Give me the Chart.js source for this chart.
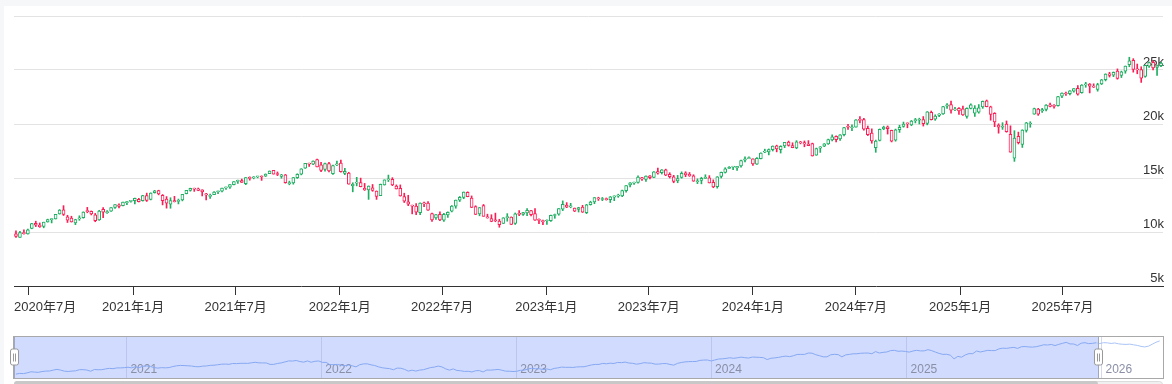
<!DOCTYPE html>
<html><head><meta charset="utf-8">
<script src="https://cdn.jsdelivr.net/npm/chart.js@4.4.1/dist/chart.umd.min.js"></script>
<style>
html,body{margin:0;padding:0;background:#f6f7f9;overflow:hidden;}
#card{position:absolute;left:4px;top:6px;width:1168px;height:378px;background:#fff;}
canvas{position:absolute;left:0;}
#main{top:0;}
#nav{top:330px;}
</style></head><body>
<div id="card"></div>
<canvas id="main" width="1172" height="330" style="width:1172px;height:330px"></canvas>
<canvas id="nav" width="1172" height="54" style="width:1172px;height:54px"></canvas>
<script>
// Weekly candles [open, high, low, close]; one row per week, weeks start on Mondays from 2020-06-08
const firstWeek = '2020-06-08';
const weeks2020 = [
[9830,10100,9490,9590],[9500,10060,9490,9950],[9950,10190,9800,9850],[9830,10280,9810,10210],
[10330,10800,10300,10770],[10800,11000,10500,10640],[10650,10840,10430,10490],[10520,10910,10390,10910],
[10930,11190,10910,11140],[11140,11230,10840,11180],[11200,11640,11200,11630],[11680,12080,11650,12040],
[12060,12440,11530,11620],[11400,11550,10880,11090],[11280,11460,10920,10940],[10850,11180,10680,11150],
[11210,11500,11080,11260],[11330,11870,11280,11850],[11990,12280,11780,11880],[11920,11950,11580,11670],
[11600,11720,10950,11050],[11130,12010,11080,11940],[12100,12270,11330,11830],[11800,11980,11730,11850],
[11920,12270,11900,12260],[12280,12530,12180,12530],[12520,12610,12230,12380],[12440,12760,12420,12760],
[12720,12840,12540,12770],[12830,12930,12760,12890]];
const weeks2021 = [
[12900,13150,12590,13110],[13030,13120,12780,12800],[12890,13400,12860,13370],[13370,13600,12830,12930],
[13010,13630,12970,13600],[13640,13860,13600,13810],[13830,13870,13440,13520],[13400,13470,12510,12910],
[13050,13280,12210,12670],[12580,13170,12200,12900],[12900,13300,12780,12800],[12830,13050,12600,12940],
[12960,13490,12880,13480],[13560,13850,13530,13850],[13850,14060,13780,14040],[14000,14060,13760,13970],
[14000,14070,13820,13860],[13900,13910,13340,13720],[13540,13590,12970,13430],[13300,13500,13100,13360],
[13450,13740,13450,13690],[13730,13800,13550,13770],[13780,14070,13720,14070],[14090,14170,13950,14150],
[14150,14400,14030,14380],[14380,14670,14370,14660],[14690,14800,14500,14740],[14760,14900,14600,14600],
[14480,15040,14380,15030],[15050,15110,14800,14960],[15010,15130,14920,15110],[15100,15160,15010,15130],
[15120,15200,14780,15090],[15160,15380,15140,15370],[15410,15660,15400,15650],[15700,15700,15360,15360],
[15380,15560,15220,15320],[15150,15340,14980,15300],[15300,15330,14520,14570],[14480,14710,14370,14580],
[14540,15050,14430,15050],[15030,15390,14960,15340],[15360,15860,15290,15850],[15900,16350,15890,16350],
[16330,16380,16070,16280],[16290,16590,16240,16570],[16700,16760,16020,16030],[16230,16460,15590,15710],
[15800,16380,15640,16340],[16330,16450,15570,15660],[15400,16190,15320,16160],[16210,16570,16150,16320]];
const weeks2022 = [
[16390,16660,15540,15590],[15430,15900,15300,15610],[15450,15530,14430,14440],[14260,14560,13720,14440],
[14520,15060,14270,14560],[14580,14990,14180,14190],[14050,14500,13850,13890],[13900,14270,13020,14250],
[14090,14400,13770,13840],[13780,13800,13020,13300],[13360,14440,13360,14420],[14370,14830,14340,14820],
[14820,15270,14670,14860],[14880,15030,14290,14350],[14250,14360,13980,14000],[14040,14360,13320,13330],
[13280,13590,12730,12850],[12800,13400,12440,12580],[12440,12490,11680,12390],[12400,12620,11610,11840],
[11800,12700,11600,12680],[12700,12760,12350,12590],[12680,12810,12000,12010],[11710,11760,10990,11130],
[11310,11610,11160,11610],[11640,11860,11040,11130],[11090,11720,10990,11640],[11570,11860,11360,11830],
[11930,12450,11860,12400],[12390,12960,12200,12950],[12950,13290,12820,13210],[13210,13710,13080,13700],
[13670,13720,13260,13270],[13150,13340,12260,12280],[12350,12430,11620,11630],[11680,12260,11500,12250],
[12450,12550,11470,11450],[11400,11650,11280,11310],[11250,11600,10950,10970],[11050,11750,10950,11040],
[11000,11180,10440,10690],[10800,11330,10790,11320],[11330,11700,11000,11400],[11390,11400,10690,10700],
[10800,11760,10700,11690],[11720,11980,11520,11630],[11630,11830,11530,11790],[11760,12170,11510,12000],
[11980,12000,11500,11600],[11700,12170,11080,11090],[11080,11230,10780,11070],[11060,11110,10670,10940]];
const weeks2023 = [
[11020,11130,10700,11040],[11060,11560,10990,11540],[11530,11660,11270,11620],[11660,12170,11550,12170],
[12120,12880,11980,12570],[12500,12720,12250,12300],[12320,12660,12240,12350],[12220,12220,11890,11940],
[12090,12290,11850,12270],[12310,12470,11810,11830],[11780,12560,11700,12520],[12540,12850,12490,12770],
[12790,13190,12620,13180],[13150,13220,12920,13060],[13010,13200,12900,13080],[13080,13150,12950,13000],
[12990,13290,12730,13250],[13220,13350,12900,13340],[13320,13500,13210,13360],[13350,13880,13270,13830],
[13830,14300,13690,14300],[14350,14580,14180,14550],[14520,14630,14400,14570],[14580,15190,14530,15080],
[15050,15070,14780,14890],[14870,15200,14680,15180],[15190,15220,14910,15040],[15050,15600,15030,15570],
[15590,15930,15350,15450],[15500,15780,15370,15750],[15750,15820,15220,15270],[15330,15490,15000,15130],
[15100,15250,14560,14690],[14730,15240,14560,14940],[15050,15570,14980,15440],[15470,15580,15120,15290],
[15330,15510,15150,15200],[15200,15300,14690,14700],[14650,14920,14480,14720],[14770,15070,14460,14980],
[14960,15300,14940,15000],[15010,15220,14540,14540],[14600,14830,14100,14180],[14200,15130,14060,15100],
[15150,15550,15000,15530],[15520,15950,15460,15840],[15880,16050,15860,15980],[16000,16070,15770,16020],
[15940,16090,15700,16080],[16130,16650,16010,16620],[16650,16970,16500,16780],[16800,16970,16790,16830]];
const weeks2024 = [
[16770,16780,16160,16310],[16280,16880,16260,16830],[16800,17330,16760,17310],[17390,17670,17340,17420],
[17420,17690,17140,17640],[17630,17970,17500,17960],[17980,18040,17420,17690],[17620,17990,17310,17940],
[17960,18300,17810,18300],[18320,18420,17950,18020],[18000,18260,17800,17810],[17790,18460,17710,18340],
[18330,18390,18160,18250],[18270,18430,17890,18150],[18150,18460,17990,18000],[18180,18230,17030,17040],
[17110,17770,17100,17720],[17770,17910,17370,17890],[17940,18190,17900,18160],[18150,18600,18110,18550],
[18530,19000,18430,18810],[18860,18910,18340,18540],[18610,19010,18480,19000],[19010,19700,18900,19660],
[19720,19980,19500,19700],[19650,19920,19380,19680],[19710,20400,19700,20390],[20410,20690,20100,20330],
[20400,20530,19440,19520],[19610,19810,18930,19020],[19160,19550,18220,18440],[17800,18510,17380,18430],
[18480,19540,18430,19510],[19540,19800,19470,19720],[19740,19820,19070,19570],[19420,19430,18340,18420],
[18510,19530,18410,19460],[19470,19890,19220,19700],[19770,20180,19700,20000],[20050,20100,19650,20010],
[19920,20330,19840,20270],[20310,20520,20100,20360],[20350,20540,20000,20380],[20420,20690,19810,20030],
[20060,21150,19920,21120],[21090,21200,20370,20390],[20450,20850,20340,20740],[20800,20970,20690,20930],
[20940,21640,20890,21620],[21640,21900,21440,21780],[21800,22130,21000,21290],[21310,21550,21240,21390]];
const weeks2025 = [
[21450,21530,20880,21200],[21400,21650,20800,20850],[20700,21500,20540,21440],[21450,21860,21400,21770],
[21000,21700,20700,21480],[21100,21800,21000,21490],[21580,22130,21450,22110],[22150,22220,21590,21610],
[21600,21650,20350,20880],[20980,21050,19750,20200],[19900,20020,19150,19700],[19700,20120,19500,19750],
[20000,20280,19240,19280],[19050,19830,17390,17400],[16830,19380,16540,18690],[18850,19250,18150,18260],
[18100,19470,17830,19430],[19400,20150,19250,20100],[20000,20210,19700,20060],[20900,21470,20900,21430],
[21380,21450,20800,20920],[21200,21460,21080,21340],[21340,21790,21220,21760],[21780,21930,21580,21630],
[21720,21790,21460,21630],[21700,22560,21650,22530],[22570,22880,22440,22870],[22820,22950,22650,22780],
[22800,23090,22700,23070],[23050,23290,22950,23270],[23300,23560,22670,22760],[22900,23650,22850,23610],
[23620,23860,23400,23710],[23700,23750,22880,23500],[23480,23720,23380,23420],[23200,23770,23040,23650],
[23700,24130,23650,24090],[24100,24650,23990,24630],[24650,24790,24350,24500],[24520,24820,24380,24790],
[24900,25100,24150,24220],[24500,24900,24300,24820],[24900,25370,24700,25360],[25500,26180,25300,25860],
[25900,26050,24800,25060],[25100,25550,24650,25010],[25050,25300,23850,24240],[24400,25450,24330,25430],
[25350,25730,25250,25690],[25720,25850,25000,25200],[25250,25450,24500,25350],[25400,25700,25300,25640]];
const weeks2026 = [
[25640,25700,25200,25250],[25300,25800,25200,25700],[25700,25900,25400,25600],[25500,25600,25000,25300],
[25300,25800,25200,25550],[25500,25600,24900,25100],[25100,25300,24700,24900],[24900,25100,24600,24800],
[24800,25150,24700,24950],[24900,25000,24400,24600],[24600,24700,24100,24300],[24300,24400,23600,23800],
[23800,23900,23300,23500],[23500,24000,23400,23900],[24000,25000,23900,24900],[25000,26000,24900,25900],
[25900,26700,25800,26600]];

// visible window (main chart) = first 290 weeks
const viewWeeks = 290;
// x-axis ticks
const xTickDates = ['2020-07-01','2021-01-01','2021-07-01','2022-01-01','2022-07-01','2023-01-01','2023-07-01','2024-01-01','2024-07-01','2025-01-01','2025-07-01'];
const xTickLabels = ['2020年7月','2021年1月','2021年7月','2022年1月','2022年7月','2023年1月','2023年7月','2024年1月','2024年7月','2025年1月','2025年7月'];
// y-axis ticks
const yTickValues = [5000,10000,15000,20000,25000,30000];
const yTickLabels = ['5k','10k','15k','20k','25k',''];
// slider year marks
const yearDates = ['2021-01-01','2022-01-01','2023-01-01','2024-01-01','2025-01-01','2026-01-01'];
const yearLabels = ['2021','2022','2023','2024','2025','2026'];

const UP = '#1fae62', DOWN = '#fa1e55';
const FONT = "'Liberation Sans', 'Noto Sans CJK SC', Arial, sans-serif";

const day0 = Date.UTC(...firstWeek.split('-').map((v,i)=>i===1?v-1:+v));
const toDay = s => { const p = s.split('-').map(Number); return (Date.UTC(p[0],p[1]-1,p[2]) - day0)/86400000; };

const all = [].concat(weeks2020, weeks2021, weeks2022, weeks2023, weeks2024, weeks2025, weeks2026);
const days = all.map((_, i) => i * 7);
const view = all.slice(0, viewWeeks);
const viewMin = days[0] - 3.5, viewMax = days[viewWeeks - 1] + 3.5;
const navMax = viewMin + (viewMax - viewMin) * (1149 / 1084);

const colors = view.map(r => r[3] >= r[0] ? UP : DOWN);
const bodies = view.map((r, i) => ({x: days[i], y: [r[0], r[3]]}));
const wicks = view.map((r, i) => ({x: days[i], y: [r[2], r[1]]}));
const xTickDays = xTickDates.map(toDay);
const yearDays = yearDates.map(toDay);

const firstLabelLeft = {
  id: 'firstLabelLeft',
  beforeDraw(chart) {
    const items = chart.scales.x.getLabelItems();
    if (items.length) { items[0].options.textAlign = 'left'; items[0].options.translation[0] = chart.chartArea.left; }
  }
};

new Chart(document.getElementById('main'), {
  type: 'bar',
  data: { datasets: [
    { data: bodies, backgroundColor: '#ffffff', borderColor: colors, borderWidth: 1, borderSkipped: false,
      barThickness: 3, minBarLength: 1, grouped: false },
    { data: wicks, backgroundColor: colors, borderWidth: 0, barThickness: 1, grouped: false }
  ]},
  options: {
    responsive: false, animation: false, events: [],
    layout: { padding: { left: 14, right: 9, top: 16, bottom: 0 } },
    plugins: { legend: { display: false }, tooltip: { enabled: false } },
    scales: {
      x: {
        type: 'linear', min: viewMin, max: viewMax, offset: false,
        afterBuildTicks: s => { s.ticks = xTickDays.map(v => ({ value: v })); },
        afterFit: s => { s.height = 44; s.paddingLeft = 0; s.paddingRight = 0; },
        grid: { drawOnChartArea: false, drawTicks: true, tickLength: 9, color: '#333', offset: false },
        border: { color: '#333' },
        ticks: { autoSkip: false, maxRotation: 0, padding: 5, color: '#333', font: { size: 13, family: FONT },
          callback: v => { const k = xTickDays.indexOf(v); return k >= 0 ? xTickLabels[k] : ''; } }
      },
      y: {
        position: 'right', min: 5000, max: 30000,
        afterBuildTicks: s => { s.ticks = yTickValues.map(v => ({ value: v })); },
        afterFit: s => { s.width = 0; },
        grid: { color: c => (c.tick && c.tick.value === 5000) ? 'rgba(0,0,0,0)' : '#e3e3e3', drawTicks: false },
        border: { display: false },
        ticks: { mirror: true, padding: 1, labelOffset: -8, color: '#333', font: { size: 13, family: FONT },
          callback: v => yTickLabels[yTickValues.indexOf(v)] }
      }
    }
  },
  plugins: [firstLabelLeft]
});

// ---------- slider (data zoom look) ----------
const closes = all.map((r, i) => ({ x: days[i], y: r[3] }));
const sliderDecor = {
  id: 'sliderDecor',
  beforeDraw(chart) {
    const { ctx, chartArea: a, scales: { x } } = chart;
    const x0 = x.getPixelForValue(viewMin), x1 = x.getPixelForValue(viewMax);
    ctx.save();
    ctx.fillStyle = 'rgba(135,160,250,0.38)';
    ctx.fillRect(x0, a.top, x1 - x0, a.bottom - a.top);
    ctx.restore();
  },
  afterDraw(chart) {
    const { ctx, chartArea: a, scales: { x } } = chart;
    const x0 = x.getPixelForValue(viewMin), x1 = x.getPixelForValue(viewMax);
    ctx.save();
    ctx.strokeStyle = '#a8a8a8'; ctx.lineWidth = 1;
    ctx.strokeRect(a.left - 0.5, a.top - 0.5, a.right - a.left + 1, a.bottom - a.top + 1);
    // bottom move bar
    ctx.fillStyle = '#f0f0f0'; ctx.strokeStyle = '#dcdcdc';
    ctx.beginPath(); ctx.roundRect(a.left + 0.5, a.bottom + 3.5, a.right - a.left - 1, 8, 3); ctx.fill(); ctx.stroke();
    ctx.fillStyle = '#c8c8c8';
    ctx.beginPath(); ctx.roundRect(x0, a.bottom + 3, x1 - x0, 9, 3); ctx.fill();
    // handles
    [x0, x1].forEach(hx => {
      ctx.strokeStyle = '#a0a8c0'; ctx.beginPath(); ctx.moveTo(Math.round(hx) + 0.5, a.top); ctx.lineTo(Math.round(hx) + 0.5, a.bottom); ctx.stroke();
      const cy = (a.top + a.bottom) / 2;
      ctx.fillStyle = '#ffffff'; ctx.strokeStyle = '#999';
      ctx.beginPath(); ctx.roundRect(Math.round(hx) - 3.5, cy - 8.5, 8, 16, 2); ctx.fill(); ctx.stroke();
      ctx.strokeStyle = '#999'; ctx.beginPath();
      ctx.moveTo(Math.round(hx) - 0.5, cy - 4); ctx.lineTo(Math.round(hx) - 0.5, cy + 4);
      ctx.moveTo(Math.round(hx) + 1.5, cy - 4); ctx.lineTo(Math.round(hx) + 1.5, cy + 4); ctx.stroke();
    });
    ctx.restore();
  }
};

new Chart(document.getElementById('nav'), {
  type: 'line',
  data: { datasets: [{
    data: closes, borderWidth: 1, pointRadius: 0, fill: false, borderColor: '#8fb0f7',
    segment: { borderColor: c => c.p1.parsed.x <= viewMax ? '#86a8f2' : '#a9c4f5' }
  }]},
  options: {
    responsive: false, animation: false, events: [],
    layout: { padding: { left: 14, right: 9, top: 7, bottom: 6 } },
    plugins: { legend: { display: false }, tooltip: { enabled: false } },
    scales: {
      x: {
        type: 'linear', min: viewMin, max: navMax, offset: false,
        afterBuildTicks: s => { s.ticks = yearDays.map(v => ({ value: v })); },
        afterFit: s => { s.height = 0; s.paddingLeft = 0; s.paddingRight = 0; },
        grid: { color: 'rgba(160,170,220,0.45)', drawTicks: false, offset: false },
        border: { display: false },
        ticks: { autoSkip: false, maxRotation: 0, align: 'start', mirror: true, padding: 1, labelOffset: 4,
          color: '#8a8fa6', font: { size: 12, family: FONT },
          callback: v => { const k = yearDays.indexOf(v); return k >= 0 ? yearLabels[k] : ''; } }
      },
      y: { display: false, min: 7600, max: 28600 }
    }
  },
  plugins: [sliderDecor]
});
</script>
</body></html>
